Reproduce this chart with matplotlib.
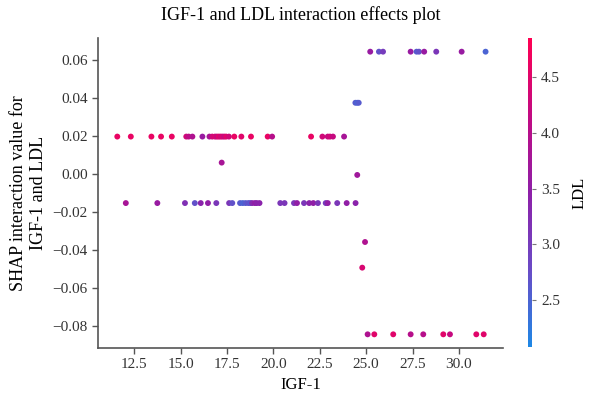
import matplotlib.pyplot as plt
import numpy as np
from matplotlib.colors import LinearSegmentedColormap

plt.rcParams['font.family'] = ['Liberation Serif', 'DejaVu Serif']

# IGF-1 values, SHAP interaction values and LDL (colour) per row of points
x_row1 = [11.58, 12.31, 13.42, 13.94, 14.52, 15.30, 15.43, 15.63, 16.17,
          16.55, 16.70, 16.85, 16.95, 17.05, 17.15, 17.25, 17.35, 17.45, 17.60,
          17.89, 18.27, 18.79, 19.69, 19.93, 22.03, 22.64, 22.93, 23.05, 23.21, 23.81]
ldl_row1 = [4.6, 4.6, 4.6, 4.6, 4.6, 4.3, 4.1, 3.9, 3.6,
            3.8, 4.3, 4.4, 4.2, 4.5, 4.3, 4.4, 4.2, 4.5, 4.3,
            4.6, 4.5, 4.6, 4.6, 4.0, 4.6, 4.3, 4.2, 4.3, 4.2, 3.8]
y_row1 = [0.0197] * len(x_row1)

x_row2 = [12.04, 13.74, 15.23, 15.76, 16.08, 16.47, 16.92, 17.61, 17.78,
          18.20, 18.35, 18.50, 18.65, 18.75, 18.85, 19.00, 19.10, 19.25,
          20.37, 20.60, 21.11, 21.27, 21.65, 21.93, 22.15, 22.40, 22.82,
          22.93, 23.44, 23.95, 24.43]
ldl_row2 = [3.8, 3.6, 3.2, 2.7, 3.4, 3.5, 3.1, 3.1, 2.7,
            2.6, 2.5, 2.6, 2.7, 2.6, 3.3, 3.5, 3.4, 3.4,
            3.1, 3.1, 3.1, 3.5, 3.1, 3.4, 3.5, 3.1, 3.0,
            3.5, 3.1, 3.5, 3.4]
y_row2 = [-0.0153] * len(x_row2)

x_top = [25.22, 25.69, 25.91, 27.40, 27.72, 27.85, 28.13, 28.78, 30.15, 31.44]
ldl_top = [3.6, 2.7, 3.0, 3.6, 2.6, 2.7, 3.6, 3.1, 3.6, 2.5]
y_top = [0.0644] * len(x_top)

x_bot = [25.08, 25.44, 26.46, 27.40, 28.08, 29.16, 29.52, 30.94, 31.34]
ldl_bot = [3.9, 4.5, 4.5, 4.0, 4.0, 4.5, 4.2, 4.5, 4.5]
y_bot = [-0.0844] * len(x_bot)

x_misc = [17.21, 24.42, 24.52, 24.60, 24.52, 24.94, 24.79]
y_misc = [0.006, 0.0375, 0.0375, 0.0375, -0.0005, -0.0358, -0.0493]
ldl_misc = [3.8, 2.6, 2.5, 2.6, 3.7, 3.9, 4.4]

igf = np.array(x_row1 + x_row2 + x_top + x_bot + x_misc)
shap_val = np.array(y_row1 + y_row2 + y_top + y_bot + y_misc)
ldl = np.array(ldl_row1 + ldl_row2 + ldl_top + ldl_bot + ldl_misc)

cmap = LinearSegmentedColormap.from_list(
    'red_blue', ['#1E88E5', '#6A4BC6', '#8E1FA8', '#C20A82', '#FF0052'])

fig = plt.figure(figsize=(6, 4.05), dpi=100)
ax = fig.add_axes([98 / 600, 1 - 348 / 405, 405 / 600, 310 / 405])
sc = ax.scatter(igf, shap_val, c=ldl, cmap=cmap, vmin=2.08, vmax=4.85,
                s=18, linewidths=0)

ax.set_xlim(10.54, 32.38)
ax.set_ylim(-0.0916, 0.0716)
ax.set_xticks([12.5, 15.0, 17.5, 20.0, 22.5, 25.0, 27.5, 30.0])
ax.set_yticks([-0.08, -0.06, -0.04, -0.02, 0.0, 0.02, 0.04, 0.06])
ax.set_yticklabels([f'{v:.2f}'.replace('-', '\u2212') for v in ax.get_yticks()])
for side in ['top', 'right']:
    ax.spines[side].set_visible(False)
for side in ['left', 'bottom']:
    ax.spines[side].set_color('#555555')
    ax.spines[side].set_linewidth(1.2)
ax.tick_params(colors='#333333', labelsize=11, length=4, width=1, color='#555555')
ax.set_xlabel('IGF-1', fontsize=12, labelpad=4)
ax.set_ylabel('SHAP interaction value for\nIGF-1 and LDL', fontsize=13)
ax.set_title('IGF-1 and LDL interaction effects plot', fontsize=13, pad=13)

cax = fig.add_axes([528 / 600, 1 - 347 / 405, 4 / 600, 309 / 405])
cbar = fig.colorbar(sc, cax=cax)
cbar.outline.set_visible(False)
cbar.set_ticks([2.5, 3.0, 3.5, 4.0, 4.5])
cbar.ax.tick_params(labelsize=11, length=3, color='#777777', colors='#333333')
cbar.set_label('LDL', fontsize=12, labelpad=8)

plt.savefig('out.png', dpi=100)
plt.close()
